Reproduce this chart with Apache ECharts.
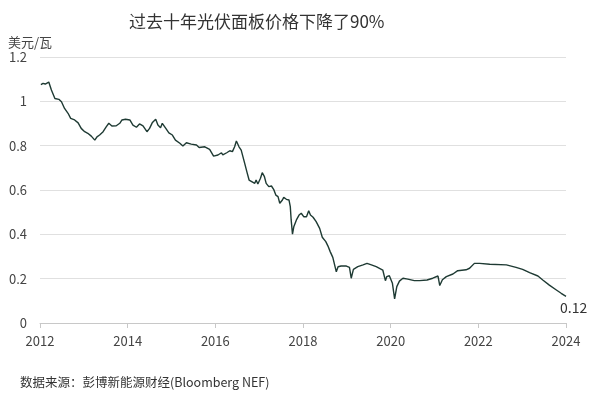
<!DOCTYPE html>
<html>
<head>
<meta charset="utf-8">
<script src="https://cdn.jsdelivr.net/npm/echarts@6/dist/echarts.min.js"></script>
<style>html,body{margin:0;padding:0;background:#fff;}#c{width:600px;height:395px;}</style>
</head>
<body>
<div id="c"></div>
<script>
const titleText = '过去十年光伏面板价格下降了90%';
const unitText = '美元/瓦';
const sourceText = '数据来源：彭博新能源财经(Bloomberg NEF)';
const xTicks = [2012, 2014, 2016, 2018, 2020, 2022, 2024];
const yTicks = [0, 0.2, 0.4, 0.6, 0.8, 1, 1.2];
const years = [
 2012.02,2012.07,2012.12,2012.20,2012.26,2012.34,2012.43,2012.49,2012.56,2012.64,
 2012.70,2012.79,2012.87,2012.94,2013.02,2013.09,2013.17,2013.25,2013.30,2013.36,
 2013.44,2013.51,2013.57,2013.64,2013.74,2013.82,2013.87,2013.95,2014.05,2014.12,
 2014.20,2014.27,2014.35,2014.44,2014.50,2014.56,2014.64,2014.69,2014.75,2014.79,
 2014.87,2014.94,2015.02,2015.09,2015.19,2015.26,2015.34,2015.45,2015.57,2015.63,
 2015.76,2015.87,2015.96,2016.06,2016.14,2016.17,2016.26,2016.33,2016.39,2016.44,
 2016.48,2016.54,2016.59,2016.67,2016.72,2016.77,2016.84,2016.90,2016.93,2016.97,
 2017.03,2017.07,2017.12,2017.16,2017.22,2017.28,2017.33,2017.38,2017.43,2017.47,
 2017.53,2017.56,2017.62,2017.68,2017.71,2017.73,2017.76,2017.79,2017.85,2017.91,
 2017.96,2018.02,2018.08,2018.13,2018.17,2018.23,2018.30,2018.38,2018.44,2018.52,
 2018.57,2018.62,2018.68,2018.72,2018.76,2018.80,2018.87,2018.99,2019.06,2019.10,
 2019.15,2019.25,2019.37,2019.46,2019.56,2019.67,2019.82,2019.88,2019.91,2019.97,
 2020.04,2020.09,2020.14,2020.20,2020.28,2020.39,2020.54,2020.66,2020.83,2020.96,
 2021.08,2021.12,2021.18,2021.27,2021.42,2021.53,2021.72,2021.80,2021.91,2022.03,
 2022.26,2022.64,2022.86,2023.01,2023.17,2023.36,2023.47,2023.62,2023.78,2023.89,
 2024.00
];
const prices = [
 1.075,1.081,1.078,1.087,1.051,1.013,1.009,0.998,0.968,0.946,
 0.923,0.916,0.903,0.878,0.863,0.856,0.843,0.825,0.840,0.848,
 0.863,0.885,0.901,0.889,0.890,0.901,0.916,0.919,0.916,0.893,
 0.883,0.898,0.889,0.863,0.878,0.903,0.919,0.893,0.881,0.901,
 0.878,0.858,0.848,0.825,0.811,0.798,0.813,0.807,0.803,0.792,
 0.795,0.783,0.753,0.758,0.768,0.758,0.768,0.777,0.773,0.795,
 0.821,0.795,0.780,0.720,0.682,0.645,0.637,0.630,0.645,0.627,
 0.653,0.678,0.660,0.630,0.615,0.618,0.603,0.577,0.570,0.540,
 0.555,0.567,0.558,0.555,0.525,0.465,0.401,0.434,0.465,0.487,
 0.495,0.479,0.479,0.506,0.487,0.477,0.457,0.427,0.387,0.367,
 0.347,0.322,0.296,0.287,0.231,0.254,0.257,0.257,0.251,0.202,
 0.242,0.254,0.262,0.269,0.262,0.254,0.239,0.191,0.209,0.213,
 0.179,0.109,0.164,0.189,0.202,0.198,0.191,0.191,0.194,0.202,
 0.212,0.169,0.195,0.209,0.221,0.236,0.240,0.247,0.269,0.269,
 0.265,0.262,0.251,0.242,0.227,0.212,0.194,0.171,0.149,0.134,
 0.12
];
const endLabel = '0.12';

const data = years.map((y, i) => [y, prices[i]]);

const chart = echarts.init(document.getElementById('c'), null, { renderer: 'canvas' });
const ff = 'Noto Sans CJK SC';
chart.setOption({
  animation: false,
  backgroundColor: '#fff',
  title: [
    { text: titleText, left: 124, top: 8, textStyle: { fontFamily: ff, fontSize: 17, fontWeight: 'normal', color: '#333' } },
    { text: unitText, left: 3, top: 31, textStyle: { fontFamily: ff, fontSize: 13, fontWeight: 'normal', color: '#444' } },
    { text: sourceText, left: 15, top: 371, textStyle: { fontFamily: ff, fontSize: 12.5, fontWeight: 'normal', color: '#333' } }
  ],
  grid: { left: 40, right: 34, top: 57, bottom: 72, containLabel: false },
  xAxis: {
    type: 'value', min: xTicks[0], max: xTicks[xTicks.length - 1], interval: 2,
    axisLine: { show: true, lineStyle: { color: '#c8c8c8', width: 1 } },
    axisTick: { show: true, length: 5, lineStyle: { color: '#c8c8c8' } },
    splitLine: { show: false },
    axisLabel: { color: '#444', fontSize: 13, fontFamily: ff, margin: 12, formatter: v => String(v) }
  },
  yAxis: {
    type: 'value', min: yTicks[0], max: yTicks[yTicks.length - 1], interval: 0.2,
    axisLine: { show: false }, axisTick: { show: false },
    splitLine: { lineStyle: { color: '#e0e0e0', width: 1 } },
    axisLabel: { color: '#444', fontSize: 13, fontFamily: ff, margin: 13, formatter: v => String(+v.toFixed(1)) }
  },
  series: [{
    type: 'line', data: data, showSymbol: false, symbol: 'none',
    lineStyle: { color: '#1e3a33', width: 1.4 },
    clip: false, z: 3,
    endLabel: { show: true, formatter: endLabel, distance: 0, offset: [-6, 11],
                color: '#333', fontSize: 14, fontFamily: ff }
  }]
});
</script>
</body>
</html>
